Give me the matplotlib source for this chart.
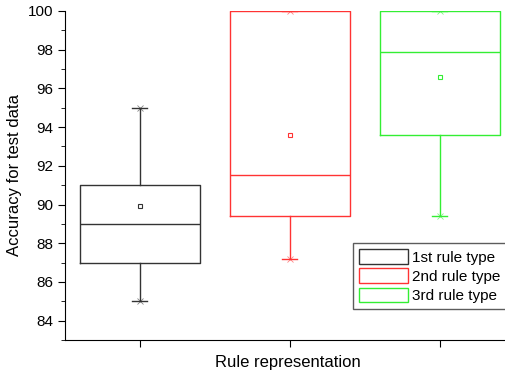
import matplotlib.pyplot as plt
from matplotlib.patches import Patch
from matplotlib.ticker import MultipleLocator

plt.rcParams["font.family"] = ["Liberation Sans", "DejaVu Sans"]

# box statistics
labels = ["1st rule type", "2nd rule type", "3rd rule type"]
colors = ["#333333", "#ff3333", "#33ee33"]
whislo = [85.0, 87.2, 89.4]
q1 = [87.0, 89.4, 93.6]
med = [89.0, 91.5, 97.9]
q3 = [91.0, 100.0, 100.0]
whishi = [95.0, 100.0, 100.0]
mean = [89.9, 93.6, 96.6]
positions = [1, 2, 3]

fig = plt.figure(figsize=(5.05, 3.74), dpi=100)
ax = fig.add_axes([65 / 505, 34 / 374, 445 / 505, 329 / 374])

for i in range(3):
    st = [dict(whislo=whislo[i], q1=q1[i], med=med[i], q3=q3[i],
               whishi=whishi[i], mean=mean[i], fliers=[])]
    c = colors[i]
    ax.bxp(st, positions=[positions[i]], widths=0.8, showmeans=True,
           boxprops=dict(color=c, lw=1.0),
           medianprops=dict(color=c, lw=1.0),
           whiskerprops=dict(color=c, lw=1.0),
           capprops=dict(color=c, lw=1.0),
           capwidths=0.1,
           meanprops=dict(marker="s", markersize=3, markerfacecolor="none",
                          markeredgecolor=c, markeredgewidth=0.8),
           manage_ticks=False)
    ax.plot([positions[i]] * 2, [whislo[i], whishi[i]], ls="none", marker="x",
            markersize=4, color=c, mew=0.6, alpha=0.6)

ax.set_xlim(0.5, 3.47)
ax.set_ylim(83, 100)
ax.set_xticks(positions)
ax.set_xticklabels([])
ax.yaxis.set_minor_locator(MultipleLocator(1))
ax.set_yticks([84, 86, 88, 90, 92, 94, 96, 98, 100])
ax.tick_params(axis="both", which="major", direction="out", length=5, labelsize=11)
ax.tick_params(axis="y", which="minor", direction="out", length=3)
ax.spines["top"].set_visible(False)
ax.spines["right"].set_visible(False)
ax.set_ylabel("Accuracy for test data", fontsize=12)
ax.set_xlabel("Rule representation", fontsize=12, labelpad=2)

handles = [Patch(facecolor="white", edgecolor=c, lw=1.0) for c in colors]
leg = ax.legend(handles, labels, loc="lower right", bbox_to_anchor=(1.01, 0.07),
                fancybox=False, edgecolor="#333333", fontsize=11,
                handlelength=3.2, handleheight=1.1, borderpad=0.4,
                labelspacing=0.25, handletextpad=0.3)
leg.get_frame().set_linewidth(1.0)

fig.savefig("out.png", dpi=100)
